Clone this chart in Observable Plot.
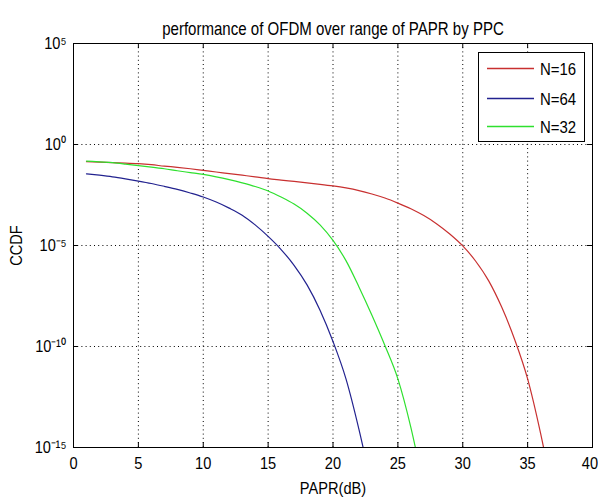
<!DOCTYPE html>
<html>
<head>
<meta charset="utf-8">
<script src="https://cdn.jsdelivr.net/npm/d3@7"></script>
<script src="https://cdn.jsdelivr.net/npm/@observablehq/plot@0.6"></script>
<style>
  html, body { margin: 0; padding: 0; background: #fff; }
  #wrap { position: relative; width: 598px; height: 499px; overflow: hidden; }
  #legend { position: absolute; left: 478px; top: 52px; }
</style>
</head>
<body>
<div id="wrap"></div>
<script>
// ---- data ----
const title = "performance of OFDM over range of PAPR by PPC";
const seriesNames = ["N=16", "N=64", "N=32"];
const seriesColors = ["#c83030", "#22228f", "#2ee02e"];

const paprN16 = [1,2,3,4,5,6,7,8,9,10,11,12,13,14,15,16,17,18,19,20,21,22,23,24,25,26,27,28,29,30,31,32,33,34,35,36,37];
const log10CcdfN16 = [-0.85,-0.87,-0.9,-0.92,-0.95,-1.0,-1.07,-1.13,-1.2,-1.28,-1.36,-1.44,-1.52,-1.6,-1.69,-1.76,-1.83,-1.9,-1.97,-2.05,-2.15,-2.28,-2.45,-2.65,-2.9,-3.18,-3.52,-3.93,-4.43,-5.02,-5.78,-6.75,-8.05,-9.65,-11.6,-14.3,-17.5];

const paprN64 = [1,2,3,4,5,6,7,8,9,10,11,12,13,14,15,16,17,18,19,20,21,22,23];
const log10CcdfN64 = [-1.45,-1.52,-1.6,-1.7,-1.81,-1.93,-2.07,-2.22,-2.4,-2.6,-2.85,-3.15,-3.5,-3.98,-4.55,-5.2,-5.98,-6.95,-8.2,-9.75,-11.6,-14.1,-17.0];

const paprN32 = [1,2,3,4,5,6,7,8,9,10,11,12,13,14,15,16,17,18,19,20,21,22,23,24,25,26,27];
const log10CcdfN32 = [-0.82,-0.86,-0.9,-0.97,-1.05,-1.12,-1.2,-1.3,-1.39,-1.48,-1.6,-1.74,-1.9,-2.08,-2.3,-2.6,-2.95,-3.4,-3.98,-4.75,-5.75,-7.05,-8.45,-9.95,-11.6,-14.0,-17.0];

const xTicks = [0,5,10,15,20,25,30,35,40];
const yTicks = [1e-15,1e-10,1e-5,1,1e5];
const yTickLabels = ["10\u207B\u00B9\u2075","10\u207B\u00B9\u2070","10\u207B\u2075","10\u2070","10\u2075"];
const xLabel = "PAPR(dB)";
const yLabel = "CCDF";

// ---- build table ----
const rows = [];
[[paprN16, log10CcdfN16], [paprN64, log10CcdfN64], [paprN32, log10CcdfN32]].forEach(([xs, ys], i) => {
  xs.forEach((x, j) => rows.push({series: seriesNames[i], papr: x, ccdf: Math.pow(10, ys[j])}));
});

const W = 598, H = 499, ML = 73, MR = 6, MT = 43, MB = 52;
const innerH = H - MT - MB, innerW = W - ML - MR;
const font = '"Liberation Sans", Arial, sans-serif';
const fmtY = d => yTickLabels[yTicks.indexOf(d)];

const chart = Plot.plot({
  width: W, height: H,
  marginLeft: ML, marginRight: MR, marginTop: MT, marginBottom: MB,
  style: {fontFamily: font, fontSize: "17px", background: "#fff", color: "#000", overflow: "visible"},
  x: {domain: [0, 40], ticks: xTicks},
  y: {type: "log", domain: [1e-15, 1e5], ticks: yTicks},
  color: {domain: seriesNames, range: seriesColors},
  marks: [
    Plot.ruleX(xTicks.slice(1, -1), {stroke: "#000", strokeDasharray: "1,3.2", strokeWidth: 1}),
    Plot.ruleY(yTicks.slice(1, -1), {stroke: "#000", strokeDasharray: "1,3.2", strokeWidth: 1}),
    Plot.lineY(rows, {x: "papr", y: "ccdf", z: "series", stroke: "series", strokeWidth: 1.2, curve: "monotone-x", clip: true}),
    Plot.tickX(xTicks, {x: d => d, stroke: "#000", insetTop: innerH - 5}),
    Plot.tickX(xTicks, {x: d => d, stroke: "#000", insetBottom: innerH - 5}),
    Plot.tickY(yTicks, {y: d => d, stroke: "#000", insetRight: innerW - 5}),
    Plot.tickY(yTicks, {y: d => d, stroke: "#000", insetLeft: innerW - 5}),
    Plot.frame({stroke: "#000"}),
    Plot.axisX(xTicks.slice(0, -1), {tickSize: 0, tickPadding: 9, fontSize: 17, label: xLabel, labelAnchor: "center", labelArrow: "none", labelOffset: 46}),
    Plot.axisX(xTicks.slice(-1), {tickSize: 0, tickPadding: 9, fontSize: 17, dx: -2.5, label: null}),
    Plot.axisY({ticks: yTicks, tickSize: 0, tickPadding: 7, fontSize: 17, tickFormat: fmtY,
      label: yLabel, labelAnchor: "center", labelArrow: "none", labelOffset: 64}),
    Plot.text([title], {frameAnchor: "top", dy: -21, fontSize: 17.5, fill: "#000"})
  ]
});

// condense text horizontally (narrow Helvetica look of the reference)
const sx = 0.86;
chart.querySelectorAll("text").forEach(t => {
  const xa = t.getAttribute("x");
  const x = xa && !/em$/.test(xa) ? +xa : 0;
  if (xa && !/em$/.test(xa)) t.removeAttribute("x");
  const tr = t.getAttribute("transform") || "";
  t.setAttribute("transform", `${tr} translate(${x},0) scale(${sx},1)`);
});

const wrap = document.getElementById("wrap");
wrap.appendChild(chart);

// ---- legend overlay ----
const NS = "http://www.w3.org/2000/svg";
const lg = document.createElementNS(NS, "svg");
lg.setAttribute("id", "legend");
lg.setAttribute("width", 107); lg.setAttribute("height", 90);
const box = document.createElementNS(NS, "rect");
box.setAttribute("x", 0.5); box.setAttribute("y", 0.5);
box.setAttribute("width", 106); box.setAttribute("height", 89);
box.setAttribute("fill", "#fff"); box.setAttribute("stroke", "#000");
lg.appendChild(box);
const entryY = [16.5, 46.5, 74.5];
seriesNames.forEach((name, i) => {
  const ln = document.createElementNS(NS, "line");
  ln.setAttribute("x1", 9); ln.setAttribute("x2", 56);
  ln.setAttribute("y1", entryY[i]); ln.setAttribute("y2", entryY[i]);
  ln.setAttribute("stroke", seriesColors[i]); ln.setAttribute("stroke-width", 1.3);
  lg.appendChild(ln);
  const tx = document.createElementNS(NS, "text");
  tx.setAttribute("transform", `translate(62,${entryY[i]}) scale(0.88,1)`);
  tx.setAttribute("dy", "0.36em");
  tx.setAttribute("font-family", font);
  tx.setAttribute("font-size", 17);
  tx.textContent = name;
  lg.appendChild(tx);
});
wrap.appendChild(lg);
</script>
</body>
</html>
